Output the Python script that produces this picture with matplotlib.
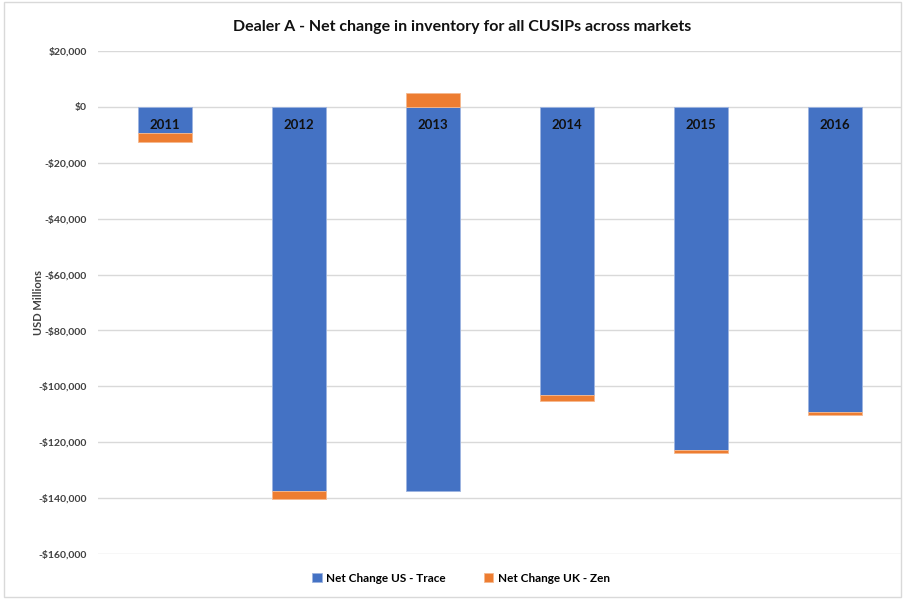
import matplotlib
matplotlib.use("Agg")
import numpy as np
from matplotlib import pyplot as plt
from matplotlib.ticker import FuncFormatter

years = ["2011", "2012", "2013", "2014", "2015", "2016"]
us_trace = [-9400, -137300, -137300, -103100, -122800, -109200]
uk_zen = [-3300, -3100, 5100, -2100, -1100, -1100]
series_names = ["Net Change US - Trace", "Net Change UK - Zen"]

blue = "#4472C4"
orange = "#ED7D31"

plt.rcParams['font.family'] = ['Lato', 'DejaVu Sans']

fig = plt.figure(figsize=(9.05, 5.99), dpi=100)
ax = fig.add_axes([98 / 905, 1 - 554 / 599, 804 / 905, 503 / 599])

x = np.arange(len(years))
us = np.array(us_trace)
uk = np.array(uk_zen)
# stack UK below negative US values, above zero for positive ones
uk_base = np.where(uk < 0, us, 0)

ax.bar(x, us, width=0.4, color=blue, edgecolor="#9db4e0", linewidth=0.6,
       label=series_names[0], zorder=3)
ax.bar(x, uk, width=0.4, bottom=uk_base, color=orange, edgecolor="#f5b98f",
       linewidth=0.6, label=series_names[1], zorder=3)

for xi, yr in zip(x, years):
    ax.text(xi, -6500, yr, ha="center", va="center", fontsize=9.5,
            fontweight="bold", color="#111111", zorder=4)

ax.set_xlim(-0.5, len(years) - 0.5)
ax.set_ylim(-160000, 20000)
ax.set_yticks(np.arange(-160000, 20001, 20000))
ax.yaxis.set_major_formatter(FuncFormatter(
    lambda v, p: ("-$" if v < 0 else "$") + f"{abs(int(v)):,}"))
ax.set_xticks([])
ax.tick_params(axis="y", length=0, labelsize=7.5, pad=8, labelcolor="#404040")
for lbl in ax.get_yticklabels():
    lbl.set_fontweight("bold")
ax.grid(axis="y", color="#d9d9d9", linewidth=1, zorder=0)
for s in ax.spines.values():
    s.set_visible(False)

ax.set_ylabel("USD Millions", fontsize=8, fontweight="bold", color="#404040")
ax.yaxis.set_label_coords((44 - 98) / 804, 0.5)

fig.text(462 / 905, 1 - 27 / 599,
         "Dealer A - Net change in inventory for all CUSIPs across markets",
         ha="center", va="center", fontsize=11.5, fontweight="bold",
         color="#111111")

fig.legend(loc="center", bbox_to_anchor=(461 / 905, 1 - 578 / 599), ncol=2,
           frameon=False, handlelength=0.8, handleheight=0.8,
           columnspacing=3.2, handletextpad=0.4,
           prop={"weight": "bold", "size": 8.5})

border = plt.Rectangle((0.004, 0.004), 0.992, 0.992, transform=fig.transFigure,
                       fill=False, edgecolor="#d9d9d9", linewidth=1)
fig.patches.append(border)

fig.savefig("out.png", dpi=100)
